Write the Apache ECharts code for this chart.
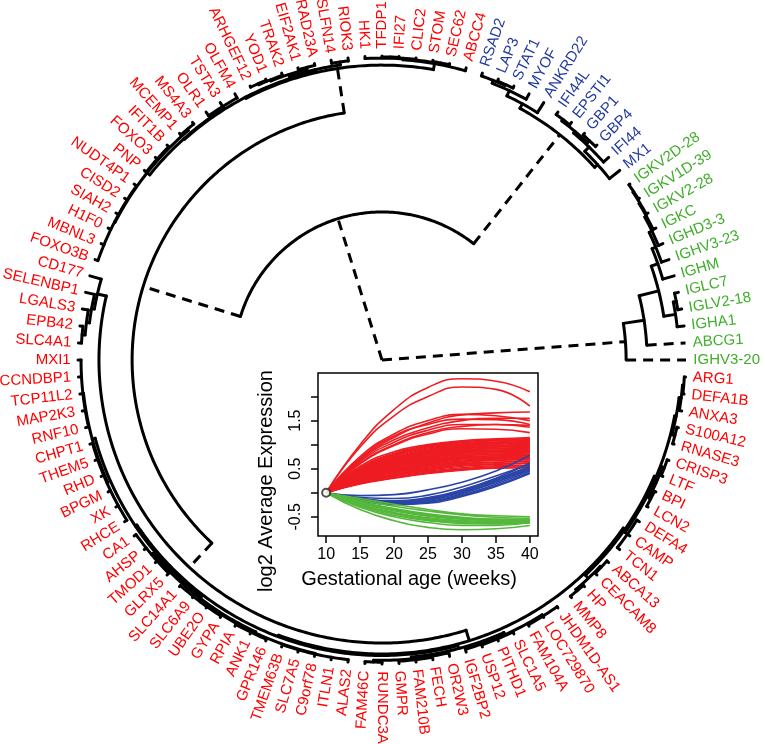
<!DOCTYPE html>
<html>
<head>
<meta charset="utf-8">
<script src="https://cdn.jsdelivr.net/npm/echarts@6/dist/echarts.min.js"></script>
<style>
html, body { margin: 0; padding: 0; background: #fff; }
#chart { width: 765px; height: 744px; }
</style>
</head>
<body>
<div id="chart"></div>
<script>
// gene groups (everything else is red)
var blueGenes = ['RSAD2','LAP3','STAT1','MYOF','ANKRD22','IFI44L','EPSTI1','GBP1','GBP4','IFI44','MX1'];
var greenGenes = ['IGKV2D-28','IGKV1D-39','IGKV2-28','IGKC','IGHD3-3','IGHV3-23','IGHM','IGLC7','IGLV2-18','IGHA1','ABCG1','IGHV3-20'];

// dendrogram: [height, child, child, ...], leaves are gene names, listed counter-clockwise from 3 o'clock
var greenTree = [1.97, 'IGHV3-20', [1.28, 'ABCG1', [0.62,
    [0.23, 'IGHA1', [0.13, 'IGLV2-18', 'IGLC7']],
    [0.39, 'IGHM', [0.26, 'IGHV3-23', [0.16, 'IGHD3-3', [0.1, 'IGKC', [0.07, 'IGKV2-28', [0.04, 'IGKV1D-39', 'IGKV2D-28']]]]]]]]];
var blueTree = [0.56,
    [0.43, 'MX1', [0.23, 'IFI44', [0.16, [0.07, 'GBP4', 'GBP1'], [0.1, 'EPSTI1', 'IFI44L']]]],
    [0.39, 'ANKRD22', [0.2, 'MYOF', [0.1, [0.07, 'STAT1', 'LAP3'], 'RSAD2']]]];
var redTop = [0.30,
    [0.1, 'ABCC4', [0.07, [0.04, 'SEC62', 'STOM'], [0.05, 'CLIC2', [0.03, 'IFI27', 'TFDP1']], 'HK1']],
    [0.26,
        [0.2, [0.1, 'RIOK3', 'SLFN14'], [0.12, [0.06, 'RAD23A', 'EIF2AK1'], [0.08, 'TRAK2', [0.04, 'YOD1', 'ARHGEF12']]]],
        [0.23, [0.15, 'OLFM4', 'TSTA3', 'OLR1'],
            [0.12, [0.07, 'MS4A3', 'MCEMP1'], [0.08, 'IFIT1B', 'FOXO3', 'PNP'],
                [0.1, 'NUDT4P1', 'CISD2', 'SIAH2', 'H1F0', 'MBNL3', 'FOXO3B']]]]];
var redCd = [0.39, 'CD177', [0.3, 'SELENBP1', [0.2, 'LGALS3', [0.1, 'EPB42', 'SLC4A1']]]];
var erythro = [0.28,
    [0.22,
        [0.12, [0.1, 'MXI1', 'CCNDBP1', 'TCP11L2', 'MAP2K3', 'RNF10'], [0.09, 'CHPT1', 'THEM5', 'RHD', 'BPGM', 'XK', 'RHCE']],
        [0.14, [0.08, 'CA1', 'AHSP', 'TMOD1', 'GLRX5'],
            [0.1, [0.05, 'SLC14A1', 'SLC6A9', 'UBE2O', 'GYPA'], [0.06, 'RPIA', 'ANK1', 'GPR146'],
                [0.08, 'TMEM63B', 'SLC7A5', 'C9orf78', 'ITLN1', 'ALAS2']]]],
    [0.18,
        [0.12, [0.06, 'FAM46C', 'RUNDC3A'], [0.08, 'GMPR', 'FAM210B', 'FECH'], 'OR2W3'],
        [0.1, 'IGF2BP2', [0.07, 'USP12', 'PITHD1', 'SLC1A5'], [0.05, 'FAM104A', 'LOC729870', 'JHDM1D-AS1']]]];
var neutro = [0.26,
    [0.12, [0.06, 'MMP8', 'HP'], [0.08, 'CEACAM8', 'ABCA13']],
    [0.2, [0.1, 'TCN1', 'CAMP', 'DEFA4'], [0.12, [0.05, 'LCN2', 'BPI'], [0.06, 'LTF', 'CRISP3']],
        [0.15, [0.05, 'RNASE3', 'S100A12'], [0.08, 'ANXA3', [0.04, 'DEFA1B', 'ARG1']]]]];
var rootTree = [10, greenTree, [5.13, blueTree, [1.78, redTop, [0.69, redCd, [0.33, erythro, neutro]]]]];

// inset: log2 average expression vs gestational age
var weeks = [10, 15, 20, 25, 30, 35, 40];
var redCurves = [
    [0, 1.00, 1.73, 2.19, 2.37, 2.32, 2.10],
    [0, 0.95, 1.60, 2.00, 2.20, 2.15, 1.80],
    [0, 0.70, 1.15, 1.45, 1.62, 1.66, 1.68],
    [0, 0.75, 1.22, 1.50, 1.63, 1.60, 1.50],
    [0, 0.72, 1.18, 1.42, 1.53, 1.52, 1.42],
    [0, 0.68, 1.10, 1.35, 1.50, 1.55, 1.55],
    [0, 0.65, 1.05, 1.30, 1.42, 1.42, 1.36],
    [0, 0.62, 1.00, 1.25, 1.38, 1.42, 1.40],
    [0, 0.60, 0.98, 1.22, 1.33, 1.32, 1.25],
    [0, 0.55, 0.85, 1.00, 1.08, 1.12, 1.15],
    [0, 0.52, 0.82, 0.98, 1.06, 1.10, 1.12],
    [0, 0.50, 0.80, 0.96, 1.05, 1.08, 1.08],
    [0, 0.48, 0.78, 0.95, 1.04, 1.08, 1.10],
    [0, 0.47, 0.76, 0.93, 1.02, 1.05, 1.05],
    [0, 0.46, 0.74, 0.91, 1.00, 1.04, 1.06],
    [0, 0.45, 0.72, 0.89, 0.98, 1.02, 1.02],
    [0, 0.44, 0.71, 0.88, 0.97, 1.02, 1.04],
    [0, 0.43, 0.70, 0.86, 0.95, 0.98, 0.98],
    [0, 0.42, 0.68, 0.85, 0.94, 0.98, 1.00],
    [0, 0.41, 0.67, 0.83, 0.92, 0.95, 0.95],
    [0, 0.40, 0.66, 0.82, 0.91, 0.95, 0.97],
    [0, 0.39, 0.64, 0.80, 0.89, 0.92, 0.92],
    [0, 0.38, 0.63, 0.79, 0.88, 0.92, 0.94],
    [0, 0.37, 0.62, 0.77, 0.86, 0.89, 0.89],
    [0, 0.36, 0.60, 0.76, 0.85, 0.89, 0.91],
    [0, 0.36, 0.59, 0.74, 0.83, 0.86, 0.86],
    [0, 0.35, 0.58, 0.73, 0.82, 0.86, 0.88],
    [0, 0.34, 0.57, 0.72, 0.80, 0.83, 0.83],
    [0, 0.33, 0.55, 0.70, 0.79, 0.83, 0.85],
    [0, 0.33, 0.54, 0.68, 0.77, 0.80, 0.80],
    [0, 0.32, 0.53, 0.67, 0.76, 0.80, 0.83],
    [0, 0.31, 0.52, 0.66, 0.74, 0.77, 0.77],
    [0, 0.30, 0.50, 0.64, 0.73, 0.77, 0.80],
    [0, 0.30, 0.49, 0.63, 0.71, 0.74, 0.74],
    [0, 0.29, 0.48, 0.61, 0.70, 0.74, 0.77],
    [0, 0.28, 0.47, 0.60, 0.68, 0.71, 0.71],
    [0, 0.27, 0.45, 0.58, 0.66, 0.70, 0.73],
    [0, 0.27, 0.44, 0.56, 0.64, 0.68, 0.68],
    [0, 0.26, 0.43, 0.55, 0.63, 0.67, 0.70],
    [0, 0.25, 0.42, 0.53, 0.61, 0.64, 0.65],
    [0, 0.24, 0.40, 0.51, 0.59, 0.63, 0.66],
    [0, 0.23, 0.38, 0.49, 0.57, 0.60, 0.61],
    [0, 0.22, 0.37, 0.47, 0.55, 0.59, 0.62],
    [0, 0.21, 0.35, 0.45, 0.52, 0.56, 0.57],
    [0, 0.20, 0.33, 0.43, 0.50, 0.54, 0.56],
    [0, 0.19, 0.31, 0.41, 0.48, 0.52, 0.54],
    [0, 0.18, 0.30, 0.40, 0.47, 0.51, 0.52],
    [0, 0.40, 0.70, 0.88, 0.98, 1.05, 1.12],
    [0, 0.35, 0.62, 0.80, 0.92, 1.00, 1.08],
    [0, 0.30, 0.55, 0.72, 0.85, 0.95, 1.04]
];
var blueCurves = [
    [0, -0.06, -0.04, 0.06, 0.22, 0.45, 0.78],
    [0, -0.10, -0.12, -0.05, 0.12, 0.35, 0.60],
    [0, -0.12, -0.18, -0.12, 0.05, 0.28, 0.55],
    [0, -0.14, -0.22, -0.18, -0.02, 0.22, 0.50],
    [0, -0.15, -0.24, -0.20, -0.05, 0.18, 0.45],
    [0, -0.13, -0.20, -0.14, 0.02, 0.25, 0.52],
    [0, -0.15, -0.23, -0.19, -0.06, 0.15, 0.42],
    [0, -0.14, -0.21, -0.16, 0.00, 0.22, 0.48],
    [0, -0.13, -0.19, -0.12, 0.04, 0.27, 0.55],
    [0, -0.16, -0.25, -0.22, -0.08, 0.13, 0.40],
    [0, -0.12, -0.17, -0.10, 0.06, 0.30, 0.62]
];
var greenCurves = [
    [0, -0.35, -0.58, -0.72, -0.77, -0.75, -0.68],
    [0, -0.30, -0.50, -0.62, -0.68, -0.68, -0.62],
    [0, -0.28, -0.47, -0.58, -0.64, -0.65, -0.63],
    [0, -0.25, -0.43, -0.54, -0.60, -0.62, -0.62],
    [0, -0.24, -0.41, -0.52, -0.58, -0.60, -0.60],
    [0, -0.22, -0.38, -0.49, -0.55, -0.58, -0.58],
    [0, -0.20, -0.36, -0.47, -0.53, -0.56, -0.57],
    [0, -0.18, -0.33, -0.44, -0.51, -0.55, -0.56],
    [0, -0.15, -0.28, -0.38, -0.46, -0.51, -0.53],
    [0, -0.12, -0.24, -0.35, -0.44, -0.48, -0.50],
    [0, -0.20, -0.35, -0.46, -0.54, -0.58, -0.60],
    [0, -0.26, -0.44, -0.56, -0.62, -0.64, -0.61]
];
var xTicks = [10, 15, 20, 25, 30, 35, 40];
var yTicks = [-0.5, 0, 0.5, 1, 1.5, 2];
var yLabels = [-0.5, 0.5, 1.5];

var RED = '#ff0000', BLUE = '#233a9e', GREEN = '#3fae2a';
var FONT = '"Liberation Sans", Arial, sans-serif';

// walk the tree: leaf order gives the angle, node angle = middle of first and last child
var leaves = [];
var nodes = [];
function layout(node, parentH) {
    if (typeof node === 'string') {
        var i = leaves.length;
        leaves.push(node);
        nodes.push([0, i, i, i, parentH]);
        return i;
    }
    var h = node[0], angles = [];
    for (var k = 1; k < node.length; k++) angles.push(layout(node[k], h));
    var a = (angles[0] + angles[angles.length - 1]) / 2;
    nodes.push([h, a, angles[0], angles[angles.length - 1], parentH]);
    return a;
}
layout(rootTree, 10);
var N = leaves.length;

var labelData = leaves.map(function (g, i) {
    var c = blueGenes.indexOf(g) >= 0 ? 1 : (greenGenes.indexOf(g) >= 0 ? 2 : 0);
    return [-0.24, i, c];
});

var myChart = echarts.init(document.getElementById('chart'), null, {renderer: 'canvas'});

var lineSeries = [];
function addCurves(list, color) {
    list.forEach(function (vals) {
        lineSeries.push({
            type: 'line',
            xAxisIndex: 0, yAxisIndex: 0,
            data: weeks.map(function (w, j) { return [w, vals[j]]; }),
            smooth: 0.5,
            showSymbol: false,
            silent: true,
            lineStyle: {color: color, width: 1.6},
            z: 3
        });
    });
}
addCurves(redCurves, '#ee1d23');
addCurves(blueCurves, '#2b45a6');
addCurves(greenCurves, '#55b83c');

var option = {
    animation: false,
    polar: {center: [382, 360], radius: [0, 304]},
    angleAxis: {type: 'value', min: 0, max: N, startAngle: 0, clockwise: false, show: false},
    radiusAxis: {type: 'value', min: 0, max: 10, inverse: true, show: false},
    grid: {
        left: 318, top: 373, width: 220, height: 163,
        show: true, borderColor: '#000', borderWidth: 1.5, backgroundColor: 'transparent'
    },
    xAxis: {
        type: 'value', min: 8.8, max: 41.2,
        axisLine: {show: false, onZero: false},
        splitLine: {show: false},
        axisTick: {show: true, customValues: xTicks, length: 7, lineStyle: {color: '#000', width: 1.5}},
        axisLabel: {customValues: xTicks, color: '#000', fontSize: 16, margin: 11, fontFamily: FONT}
    },
    yAxis: {
        type: 'value', min: -0.9, max: 2.49,
        axisLine: {show: false, onZero: false},
        splitLine: {show: false},
        axisTick: {show: true, customValues: yTicks, length: 7, lineStyle: {color: '#000', width: 1.5}},
        axisLabel: {customValues: yLabels, color: '#000', fontSize: 16, margin: 14, rotate: 90, fontFamily: FONT}
    },
    graphic: [
        {type: 'text', x: 409, y: 579, silent: true,
            style: {text: 'Gestational age (weeks)', font: '20px ' + FONT, fill: '#000', align: 'center', verticalAlign: 'middle'}},
        {type: 'text', x: 266, y: 481, rotation: Math.PI / 2, silent: true,
            style: {text: 'log2 Average Expression', font: '20px ' + FONT, fill: '#000', align: 'center', verticalAlign: 'middle'}}
    ],
    series: [
        {
            type: 'custom',
            coordinateSystem: 'polar',
            silent: true,
            clip: false,
            data: nodes,
            renderItem: function (params, api) {
                var h = api.value(0), a = api.value(1), a0 = api.value(2), a1 = api.value(3), ph = api.value(4);
                var children = [];
                if (a1 > a0) {
                    var pts = [];
                    for (var t = a0; t < a1; t += 0.2) pts.push(api.coord([h, t]));
                    pts.push(api.coord([h, a1]));
                    children.push({type: 'polyline', shape: {points: pts},
                        style: {stroke: '#000', lineWidth: 3, fill: null, lineCap: 'round'}});
                }
                if (ph > h) {
                    var p1 = api.coord([ph, a]), p2 = api.coord([h, a]);
                    var dashed = ph - h > 0.8;
                    children.push({type: 'line', shape: {x1: p1[0], y1: p1[1], x2: p2[0], y2: p2[1]},
                        style: {stroke: '#000', lineWidth: 3, lineDash: dashed ? [10, 7] : null,
                            lineCap: dashed ? 'butt' : 'round'}});
                }
                return {type: 'group', children: children};
            }
        },
        {
            type: 'custom',
            coordinateSystem: 'polar',
            silent: true,
            clip: false,
            data: labelData,
            renderItem: function (params, api) {
                var i = api.value(1), c = api.value(2);
                var p = api.coord([api.value(0), i]);
                var o = api.coord([10, i]);
                var deg = Math.atan2(o[1] - p[1], p[0] - o[0]) * 180 / Math.PI;
                if (deg < 0) deg += 360;
                var left = deg > 90 && deg < 270;
                var rot = left ? deg - 180 : deg;
                return {
                    type: 'text',
                    x: p[0], y: p[1],
                    rotation: rot * Math.PI / 180,
                    style: {
                        text: leaves[params.dataIndex],
                        fill: c === 1 ? BLUE : (c === 2 ? GREEN : RED),
                        font: '15px ' + FONT,
                        align: left ? 'right' : 'left',
                        verticalAlign: 'middle'
                    }
                };
            }
        }
    ].concat(lineSeries).concat([
        {
            type: 'scatter',
            data: [[10, 0]],
            symbol: 'emptyCircle',
            symbolSize: 8,
            silent: true,
            itemStyle: {color: '#222', borderWidth: 1.3},
            z: 5
        }
    ])
};
myChart.setOption(option);
</script>
</body>
</html>
